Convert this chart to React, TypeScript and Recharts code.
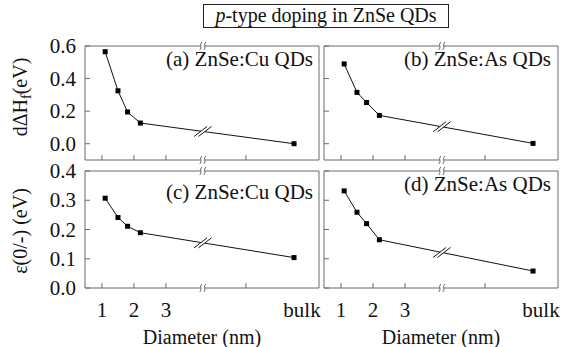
// p-type doping in ZnSe quantum dots: four panels, serif text
import { LineChart, Line, XAxis, YAxis, ReferenceArea, ReferenceDot } from 'recharts';

const FONT = 'Liberation Serif';
const FRAME = '#6a6a6a';
const INK = '#111';

// diameters in nm for the quantum dots, the bulk point sits at the far end
const QD_DIAMETERS = [1.1, 1.5, 1.8, 2.2];
const BULK_X = 7;
const X_TICKS = [1, 2, 3, 5.5, 7.25];
const X_TICK_LABELS = ['1', '2', '3', '', 'bulk'];
const X_DOMAIN: [number, number] = [0.47, 7.78];
const BREAK_X = 4.15;

// formation energy change (eV)
const CU_FORMATION = [0.565, 0.325, 0.195, 0.127, 0.0];
const AS_FORMATION = [0.49, 0.315, 0.253, 0.174, 0.002];
// transition level e(0/-) (eV)
const CU_LEVEL = [0.307, 0.241, 0.211, 0.189, 0.104];
const AS_LEVEL = [0.332, 0.259, 0.22, 0.165, 0.058];

const TOP_TICKS = [0, 0.2, 0.4, 0.6];
const TOP_DOMAIN: [number, number] = [-0.1, 0.6];
const BOTTOM_TICKS = [0, 0.1, 0.2, 0.3, 0.4];
const BOTTOM_DOMAIN: [number, number] = [0, 0.4];

const toRows = (values: number[]) =>
  values.map((v, i) => ({ d: i < QD_DIAMETERS.length ? QD_DIAMETERS[i] : BULK_X, v }));

const FrameBreak = (props: any) => {
  const { cx, cy } = props;
  const s = (x: number) => `M ${x + 1.2} ${cy - 4} C ${x - 2} ${cy - 1.5}, ${x + 2} ${cy + 1.5}, ${x - 1.2} ${cy + 4}`;
  return (
    <g>
      <rect x={cx - 1.8} y={cy - 1.5} width={3.6} height={3} fill="#fff" />
      <path d={s(cx - 2)} stroke={FRAME} fill="none" strokeWidth={1} />
      <path d={s(cx + 2)} stroke={FRAME} fill="none" strokeWidth={1} />
    </g>
  );
};

const LineBreak = (props: any) => {
  const { cx, cy } = props;
  const s = 2.2;
  return (
    <g>
      <polygon
        points={`${cx - s - 5},${cy + 4} ${cx - s + 5},${cy - 4} ${cx + s + 5},${cy - 4} ${cx + s - 5},${cy + 4}`}
        fill="#fff"
      />
      <line x1={cx - s - 6.5} y1={cy + 5} x2={cx - s + 6.5} y2={cy - 5} stroke={INK} strokeWidth={1} />
      <line x1={cx + s - 6.5} y1={cy + 5} x2={cx + s + 6.5} y2={cy - 5} stroke={INK} strokeWidth={1} />
    </g>
  );
};

const T = (props: any) => <text fontSize={20} fill={INK} style={{ fontFamily: FONT }} {...props} />;

type PanelProps = {
  left: number;
  top: number;
  plotW: number;
  plotH: number;
  values: number[];
  yDomain: [number, number];
  yTicks: number[];
  yLabels: boolean;
  xLabels: boolean;
};

const Panel = ({ left, top, plotW, plotH, values, yDomain, yTicks, yLabels, xLabels }: PanelProps) => {
  const padL = 85;
  const padT = 12;
  const padR = 10;
  const padB = 60;
  const W = plotW + padL + padR;
  const H = plotH + padT + padB;
  const bottom = padT + plotH;
  const rows = toRows(values);

  const last = rows.length - 1;
  const a = rows[last - 1];
  const b = rows[last];
  const breakY = a.v + ((b.v - a.v) * (BREAK_X - a.d)) / (b.d - a.d);

  const XTick = (p: any) => {
    const i = X_TICKS.indexOf(p.payload.value);
    const label = X_TICK_LABELS[i];
    return (
      <g>
        {label !== 'bulk' && <line x1={p.x} x2={p.x} y1={bottom} y2={bottom - 5} stroke={FRAME} />}
        {xLabels && (
          <T x={p.x} y={bottom + 22} textAnchor="middle" dominantBaseline="central" fontSize={21}>
            {label}
          </T>
        )}
      </g>
    );
  };

  const YTick = (p: any) => (
    <g>
      <line x1={padL} x2={padL + 5} y1={p.y} y2={p.y} stroke={FRAME} />
      {yLabels && (
        <T x={padL - 9} y={p.y} textAnchor="end" dominantBaseline="central" fontSize={21}>
          {p.payload.value.toFixed(1)}
        </T>
      )}
    </g>
  );

  return (
    <div style={{ position: 'absolute', left: left - padL, top: top - padT }}>
      <LineChart width={W} height={H} data={rows} margin={{ top: padT, right: padR, bottom: 0, left: 0 }}>
        <XAxis
          dataKey="d"
          type="number"
          domain={X_DOMAIN}
          ticks={X_TICKS}
          interval={0}
          height={padB}
          axisLine={false}
          tickLine={false}
          tick={XTick}
          allowDataOverflow
        />
        <YAxis
          type="number"
          domain={yDomain}
          ticks={yTicks}
          interval={0}
          width={padL}
          axisLine={false}
          tickLine={false}
          tick={YTick}
          allowDataOverflow
        />
        <ReferenceArea
          x1={X_DOMAIN[0]}
          x2={X_DOMAIN[1]}
          y1={yDomain[0]}
          y2={yDomain[1]}
          fill="none"
          fillOpacity={0}
          stroke={FRAME}
          strokeWidth={1}
        />
        <Line
          dataKey="v"
          type="linear"
          stroke={INK}
          strokeWidth={1}
          isAnimationActive={false}
          dot={(d: any) => (
            <rect key={`dot-${d.index}`} x={d.cx - 2.5} y={d.cy - 2.5} width={5} height={5} fill="#000" />
          )}
        />
        <ReferenceDot x={BREAK_X} y={yDomain[1]} shape={FrameBreak} />
        <ReferenceDot x={BREAK_X} y={yDomain[0]} shape={FrameBreak} />
        <ReferenceDot x={BREAK_X} y={breakY} shape={LineBreak} />
      </LineChart>
    </div>
  );
};

const PANEL_W = 234;
const TOP_Y = 46;
const TOP_H = 114;
const BOT_Y = 171;
const BOT_H = 117;
const LEFT_X = 85;
const RIGHT_X = 324;

export default function App() {
  return (
    <div style={{ position: 'absolute', left: 0, top: 0, width: 569, height: 347, background: '#fff', overflow: 'hidden' }}>
      <Panel left={LEFT_X} top={TOP_Y} plotW={PANEL_W} plotH={TOP_H} values={CU_FORMATION} yDomain={TOP_DOMAIN} yTicks={TOP_TICKS} yLabels xLabels={false} />
      <Panel left={RIGHT_X} top={TOP_Y} plotW={PANEL_W} plotH={TOP_H} values={AS_FORMATION} yDomain={TOP_DOMAIN} yTicks={TOP_TICKS} yLabels={false} xLabels={false} />
      <Panel left={LEFT_X} top={BOT_Y} plotW={PANEL_W} plotH={BOT_H} values={CU_LEVEL} yDomain={BOTTOM_DOMAIN} yTicks={BOTTOM_TICKS} yLabels xLabels />
      <Panel left={RIGHT_X} top={BOT_Y} plotW={PANEL_W} plotH={BOT_H} values={AS_LEVEL} yDomain={BOTTOM_DOMAIN} yTicks={BOTTOM_TICKS} yLabels={false} xLabels />

      <svg width={569} height={347} style={{ position: 'absolute', left: 0, top: 0, pointerEvents: 'none' }}>
        <rect x={203.5} y={4.5} width={245} height={23} fill="none" stroke="#222" />
        <T x={326} y={22} textAnchor="middle">
          <tspan fontStyle="italic">p</tspan>-type doping in ZnSe QDs
        </T>

        <T x={LEFT_X + PANEL_W - 6} y={66} textAnchor="end" fontSize={21}>(a) ZnSe:Cu QDs</T>
        <T x={RIGHT_X + PANEL_W - 7} y={66} textAnchor="end" fontSize={21}>(b) ZnSe:As QDs</T>
        <T x={LEFT_X + PANEL_W - 6} y={199} textAnchor="end" fontSize={21}>(c) ZnSe:Cu QDs</T>
        <T x={RIGHT_X + PANEL_W - 7} y={191} textAnchor="end" fontSize={21}>(d) ZnSe:As QDs</T>

        <T transform="translate(27 97) rotate(-90)" textAnchor="middle">
          dΔH<tspan dy={4} fontSize={14}>f</tspan>
          <tspan dy={-4}>(eV)</tspan>
        </T>
        <T transform="translate(27 231) rotate(-90)" textAnchor="middle">
          ε(0/-) (eV)
        </T>

        <T x={LEFT_X + PANEL_W / 2} y={337} textAnchor="middle" dominantBaseline="central">Diameter (nm)</T>
        <T x={RIGHT_X + PANEL_W / 2} y={337} textAnchor="middle" dominantBaseline="central">Diameter (nm)</T>
      </svg>
    </div>
  );
}
